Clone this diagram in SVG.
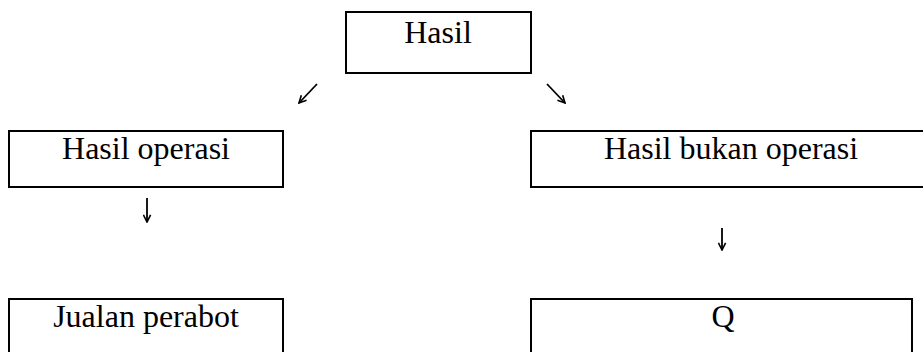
<svg xmlns="http://www.w3.org/2000/svg" width="923" height="352" viewBox="0 0 923 352">
<style>
.box{fill:#fff;stroke:#000;stroke-width:2}
.lbl{font-size:32px;fill:#000;text-anchor:middle}
.arr{stroke:#000;stroke-width:1.8;fill:none;marker-end:url(#ah)}
</style>
<defs>
<marker id="ah" viewBox="0 0 10 10" refX="9" refY="5" markerWidth="9" markerHeight="9" orient="auto" markerUnits="userSpaceOnUse">
<path d="M1,1 L9,5 L1,9" fill="none" stroke="#000" stroke-width="1.8"/>
</marker>
</defs>
<rect width="923" height="352" fill="#fff"/>
<g id="n-hasil"><rect class="box" x="346" y="12" width="185" height="61"/><text class="lbl" font-family="Liberation Serif, Times New Roman, serif" x="438" y="43">Hasil</text></g>
<g id="n-operasi"><rect class="box" x="9" y="131" width="274" height="56"/><text class="lbl" font-family="Liberation Serif, Times New Roman, serif" x="146" y="159">Hasil operasi</text></g>
<g id="n-bukan"><rect class="box" x="531" y="131" width="400" height="56"/><text class="lbl" font-family="Liberation Serif, Times New Roman, serif" x="731" y="159">Hasil bukan operasi</text></g>
<g id="n-jualan"><rect class="box" x="9" y="299" width="274" height="62"/><text class="lbl" font-family="Liberation Serif, Times New Roman, serif" x="146" y="327">Jualan perabot</text></g>
<g id="n-q"><rect class="box" x="531" y="299" width="381" height="62"/><text class="lbl" font-family="Liberation Serif, Times New Roman, serif" x="723" y="327">Q</text></g>
<g id="connectors">
<line class="arr" x1="317" y1="84" x2="299" y2="103"/>
<line class="arr" x1="547" y1="84" x2="565" y2="103"/>
<line class="arr" x1="147" y1="198" x2="147" y2="222"/>
<line class="arr" x1="722" y1="228" x2="722" y2="250"/>
</g>
</svg>
